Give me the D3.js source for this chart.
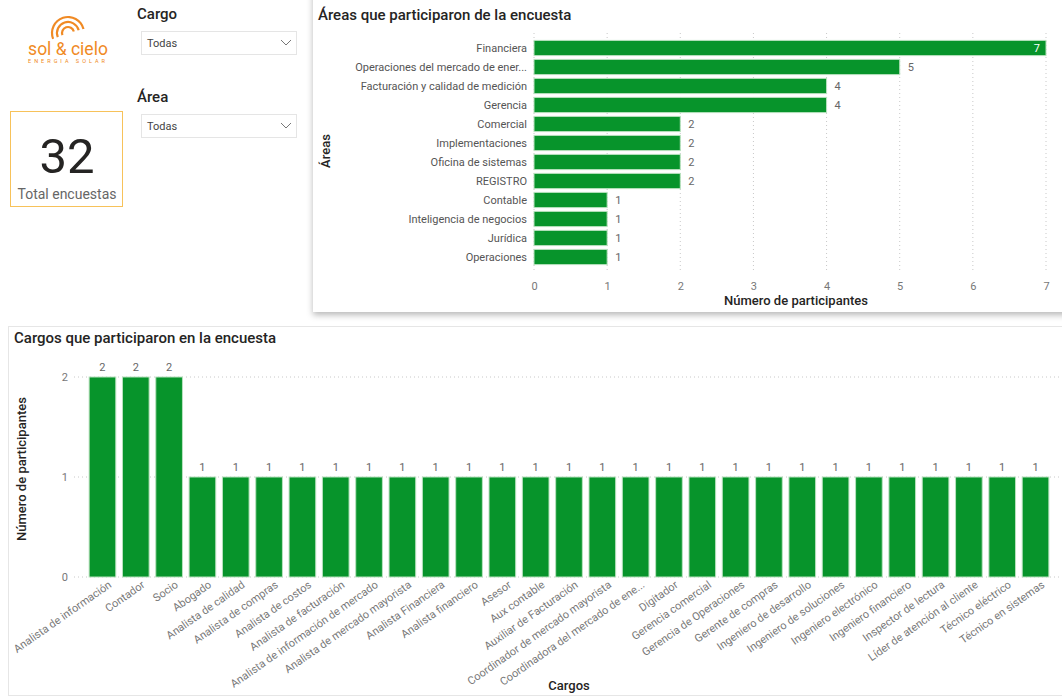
<!DOCTYPE html>
<html>
<head>
<meta charset="utf-8">
<script src="https://cdn.jsdelivr.net/npm/d3@7"></script>
<style>
  body { margin: 0; background: #fff; }
  text { font-family: Roboto, "Open Sans", sans-serif; }
</style>
</head>
<body>
<svg id="page" width="1062" height="698"></svg>
<script>
// Areas chart data
const areas = ["Financiera", "Operaciones del mercado de ener...", "Facturación y calidad de medición", "Gerencia",
  "Comercial", "Implementaciones", "Oficina de sistemas", "REGISTRO", "Contable",
  "Inteligencia de negocios", "Jurídica", "Operaciones"];
const areaCounts = [7, 5, 4, 4, 2, 2, 2, 2, 1, 1, 1, 1];
const areaTicks = [0, 1, 2, 3, 4, 5, 6, 7];

// Cargos chart data
const cargos = ["Analista de información", "Contador", "Socio", "Abogado", "Analista de calidad",
  "Analista de compras", "Analista de costos", "Analista de facturación", "Analista de información de mercado",
  "Analista de mercado mayorista", "Analista Financiera", "Analista financiero", "Asesor", "Aux contable",
  "Auxiliar de Facturación", "Coordinador de mercado mayorista", "Coordinadora del mercado de ene...",
  "Digitador", "Gerencia comercial", "Gerencia de Operaciones", "Gerente de compras", "Ingeniero de desarrollo",
  "Ingeniero de soluciones", "Ingeniero electrónico", "Ingeniero financiero", "Inspector de lectura",
  "Líder de atención al cliente", "Técnico eléctrico", "Técnico en sistemas"];
const cargoCounts = [2, 2, 2, 1, 1, 1, 1, 1, 1, 1, 1, 1, 1, 1, 1, 1, 1, 1, 1, 1, 1, 1, 1, 1, 1, 1, 1, 1, 1];
const cargoTicks = [0, 1, 2];

const totalEncuestas = 32;

const green = "#07942b";
const barStroke = "#b9e2bf";
const tickColor = "#777";
const darkText = "#252423";

const svg = d3.select("#page");

// shadow filter for the panels
const defs = svg.append("defs");
defs.append("filter").attr("id", "shadow")
  .attr("x", "-5%").attr("y", "-5%").attr("width", "110%").attr("height", "115%")
  .append("feDropShadow")
  .attr("dx", 0).attr("dy", 3).attr("stdDeviation", 3)
  .attr("flood-color", "#000").attr("flood-opacity", 0.28);

// ---------- logo ----------
const logo = svg.append("g").attr("transform", "translate(68,33)");
[6, 11, 16].forEach(r => {
  logo.append("path")
    .attr("d", d3.arc()({ innerRadius: r - 1.1, outerRadius: r + 1.1, startAngle: -Math.PI * 0.62, endAngle: Math.PI * 0.42 }))
    .attr("fill", "#f08a24");
});
svg.append("text").attr("x", 68).attr("y", 55).attr("text-anchor", "middle")
  .attr("font-size", 17.5).attr("fill", "#f08a24").text("sol & cielo");
svg.append("text").attr("x", 68).attr("y", 62.5).attr("text-anchor", "middle")
  .attr("font-size", 5.5).attr("letter-spacing", 3).attr("fill", "#f08a24").text("ENERGIA SOLAR");

// ---------- KPI card ----------
svg.append("rect").attr("x", 10.5).attr("y", 111.5).attr("width", 112).attr("height", 95)
  .attr("fill", "#fff").attr("stroke", "#f7c25a").attr("stroke-width", 1);
svg.append("text").attr("x", 67).attr("y", 173).attr("text-anchor", "middle")
  .attr("font-size", 49).attr("fill", darkText).text(totalEncuestas);
svg.append("text").attr("x", 67).attr("y", 199).attr("text-anchor", "middle")
  .attr("font-size", 14).attr("fill", "#666").text("Total encuestas");

// ---------- slicers ----------
function slicer(title, y) {
  svg.append("text").attr("x", 137).attr("y", y).attr("font-size", 15).attr("font-weight", 500)
    .attr("fill", darkText).text(title);
  svg.append("rect").attr("x", 141.5).attr("y", y + 12.5).attr("width", 155).attr("height", 23)
    .attr("fill", "#fff").attr("stroke", "#e5e5e5");
  svg.append("text").attr("x", 147).attr("y", y + 28).attr("font-size", 11).attr("fill", "#444").text("Todas");
  svg.append("path").attr("d", `M281,${y + 21} l5,5 l5,-5`).attr("fill", "none")
    .attr("stroke", "#777").attr("stroke-width", 1);
}
slicer("Cargo", 19);
slicer("Área", 102);

// ---------- top panel: areas ----------
svg.append("rect").attr("x", 313).attr("y", -10).attr("width", 760).attr("height", 322)
  .attr("fill", "#fff").attr("filter", "url(#shadow)");

svg.append("text").attr("x", 318).attr("y", 20).attr("font-size", 15).attr("font-weight", 500)
  .attr("fill", darkText).text("Áreas que participaron de la encuesta");

const xArea = d3.scaleLinear().domain([0, 7]).range([534, 1046]);
const yArea = d3.scaleBand().domain(areas).range([38.5, 266.5]).paddingInner(0.2).paddingOuter(0.1);

// gridlines
svg.append("g").selectAll("line").data(areaTicks).join("line")
  .attr("x1", d => xArea(d)).attr("x2", d => xArea(d))
  .attr("y1", 33).attr("y2", 272)
  .attr("stroke", "#c8c8c8").attr("stroke-dasharray", "1,3");

const xAxisTop = svg.append("g").attr("transform", "translate(0,274)")
  .call(d3.axisBottom(xArea).tickValues(areaTicks).tickFormat(d3.format("d")).tickSize(0).tickPadding(8));
xAxisTop.select(".domain").remove();
xAxisTop.selectAll("text").attr("font-size", 11).attr("fill", tickColor)
  .style("font-family", "Roboto, sans-serif");

const yAxisTop = svg.append("g").attr("transform", "translate(527,0)")
  .call(d3.axisLeft(yArea).tickSize(0).tickPadding(0));
yAxisTop.select(".domain").remove();
yAxisTop.selectAll("text").attr("font-size", 11).attr("fill", "#555")
  .style("font-family", "Roboto, sans-serif");

svg.append("g").selectAll("rect").data(areas).join("rect")
  .attr("x", xArea(0))
  .attr("y", d => yArea(d))
  .attr("width", (d, i) => xArea(areaCounts[i]) - xArea(0))
  .attr("height", yArea.bandwidth())
  .attr("fill", green).attr("stroke", barStroke).attr("stroke-width", 1);

svg.append("g").selectAll("text").data(areas).join("text")
  .attr("x", (d, i) => areaCounts[i] === 7 ? xArea(areaCounts[i]) - 6 : xArea(areaCounts[i]) + 8)
  .attr("y", d => yArea(d) + yArea.bandwidth() / 2)
  .attr("dy", "0.35em")
  .attr("text-anchor", (d, i) => areaCounts[i] === 7 ? "end" : "start")
  .attr("font-size", 11)
  .attr("fill", (d, i) => areaCounts[i] === 7 ? "#fff" : "#666")
  .text((d, i) => areaCounts[i]);

svg.append("text").attr("x", 796).attr("y", 305).attr("text-anchor", "middle")
  .attr("font-size", 13).attr("font-weight", 500).attr("fill", darkText).text("Número de participantes");
svg.append("text").attr("transform", "translate(330,151) rotate(-90)").attr("text-anchor", "middle")
  .attr("font-size", 13).attr("font-weight", 500).attr("fill", darkText).text("Áreas");

// ---------- bottom panel: cargos ----------
svg.append("rect").attr("x", 8.5).attr("y", 326.5).attr("width", 1060).attr("height", 369)
  .attr("fill", "#fff").attr("stroke", "#e6e6e6");

svg.append("text").attr("x", 14).attr("y", 343).attr("font-size", 15).attr("font-weight", 500)
  .attr("fill", darkText).text("Cargos que participaron en la encuesta");

const xCargo = d3.scaleBand().domain(cargos).range([85.8, 1052.2]).paddingInner(0.2).paddingOuter(0.1);
const yCargo = d3.scaleLinear().domain([0, 2]).range([577, 377]);

svg.append("g").selectAll("line").data(cargoTicks).join("line")
  .attr("x1", 74).attr("x2", 1060)
  .attr("y1", d => yCargo(d)).attr("y2", d => yCargo(d))
  .attr("stroke", "#c8c8c8").attr("stroke-dasharray", "1,3");

const yAxisBottom = svg.append("g").attr("transform", "translate(68,0)")
  .call(d3.axisLeft(yCargo).tickValues(cargoTicks).tickFormat(d3.format("d")).tickSize(0).tickPadding(0));
yAxisBottom.select(".domain").remove();
yAxisBottom.selectAll("text").attr("font-size", 11).attr("fill", tickColor)
  .style("font-family", "Roboto, sans-serif");

svg.append("g").selectAll("rect").data(cargos).join("rect")
  .attr("x", d => xCargo(d))
  .attr("y", (d, i) => yCargo(cargoCounts[i]))
  .attr("width", xCargo.bandwidth())
  .attr("height", (d, i) => yCargo(0) - yCargo(cargoCounts[i]))
  .attr("fill", green).attr("stroke", barStroke).attr("stroke-width", 1);

svg.append("g").selectAll("text").data(cargos).join("text")
  .attr("x", d => xCargo(d) + xCargo.bandwidth() / 2)
  .attr("y", (d, i) => yCargo(cargoCounts[i]) - 6)
  .attr("text-anchor", "middle")
  .attr("font-size", 11).attr("fill", "#666")
  .text((d, i) => cargoCounts[i]);

const xAxisBottom = svg.append("g").attr("transform", "translate(0,579)")
  .call(d3.axisBottom(xCargo).tickSize(0).tickPadding(0));
xAxisBottom.select(".domain").remove();
xAxisBottom.selectAll("text")
  .attr("font-size", 11).attr("fill", tickColor)
  .style("font-family", "Roboto, sans-serif")
  .attr("text-anchor", "end")
  .attr("dy", "0.6em")
  .attr("transform", "translate(6,2) rotate(-35)");

svg.append("text").attr("x", 569).attr("y", 690).attr("text-anchor", "middle")
  .attr("font-size", 13).attr("font-weight", 500).attr("fill", darkText).text("Cargos");
svg.append("text").attr("transform", "translate(26,469) rotate(-90)").attr("text-anchor", "middle")
  .attr("font-size", 13).attr("font-weight", 500).attr("fill", darkText).text("Número de participantes");
</script>
</body>
</html>
